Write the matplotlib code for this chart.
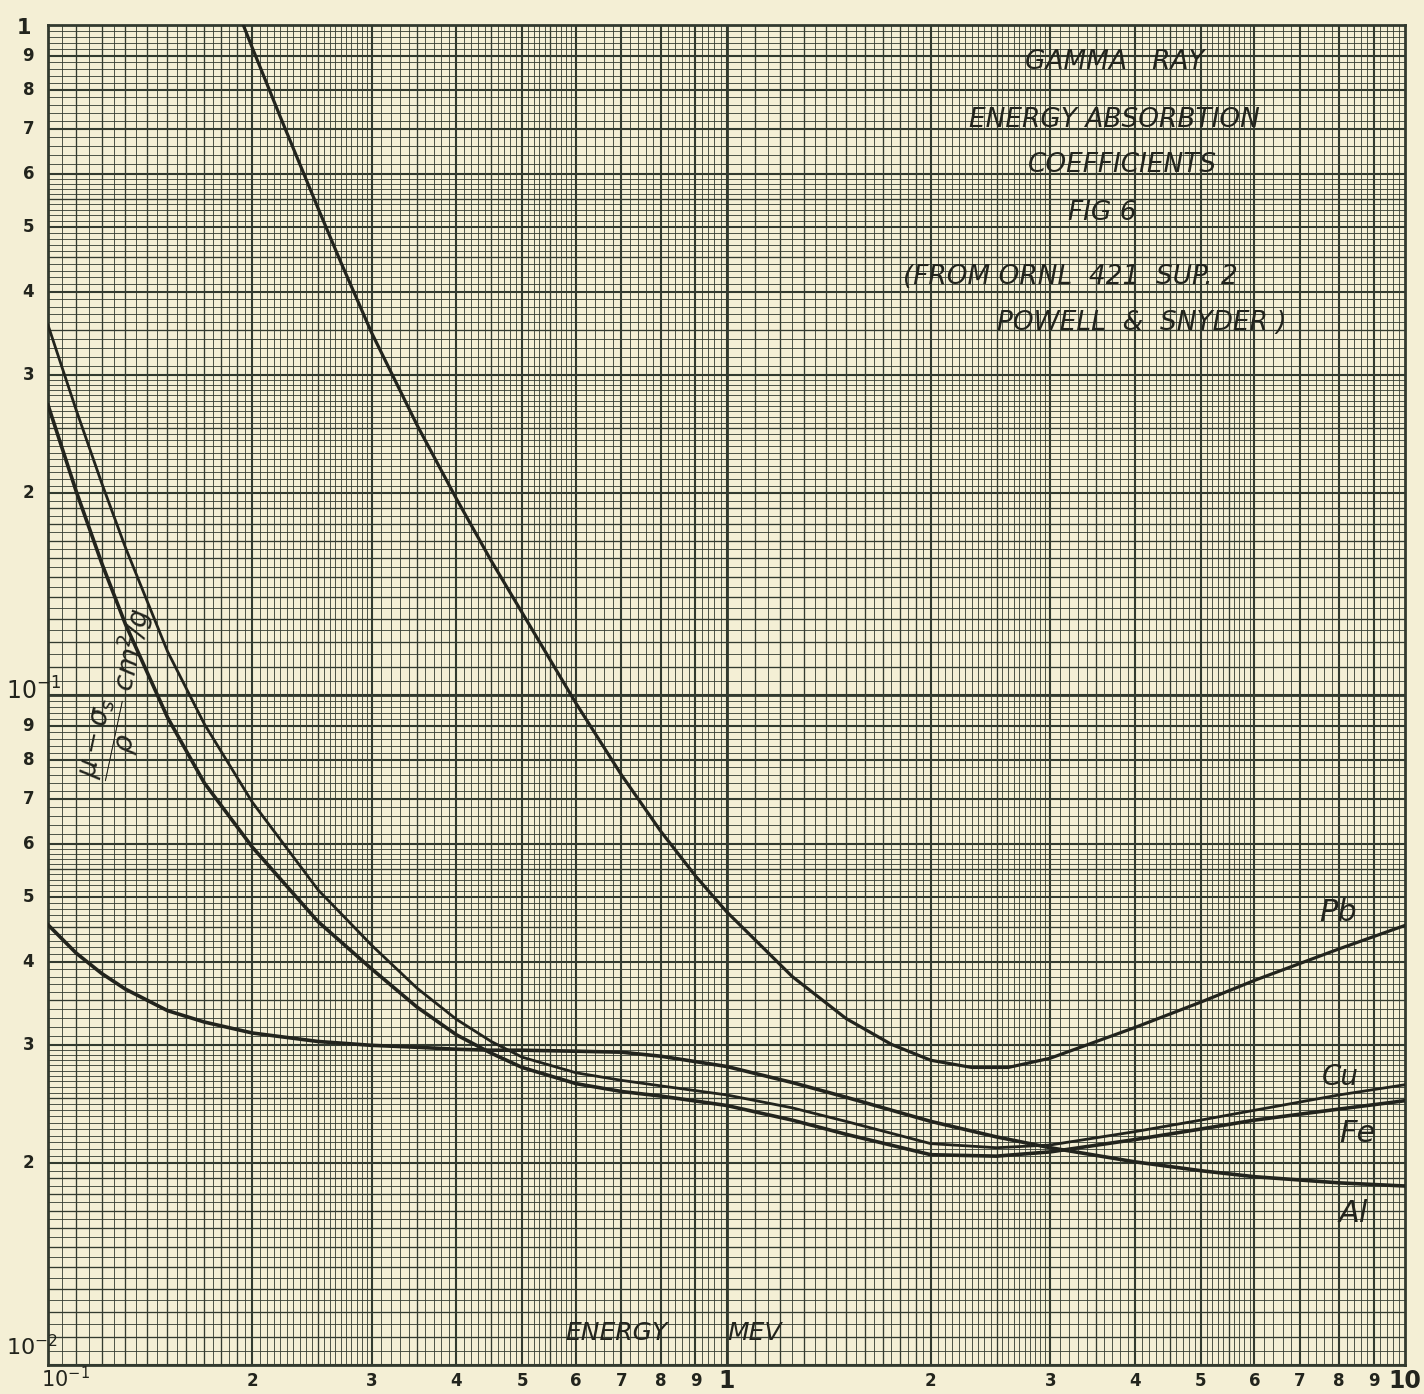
import numpy as np
import matplotlib.pyplot as plt

# energies (MeV) shared by Cu, Fe, Al
energy = [0.1, 0.11, 0.12, 0.13, 0.15, 0.17, 0.2, 0.25, 0.3, 0.35, 0.4, 0.45, 0.5,
          0.6, 0.7, 0.8, 1.0, 1.25, 1.5, 2, 2.5, 3, 4, 5, 6, 8, 10]

cu = [0.3566, 0.2666, 0.2071, 0.1662, 0.1162, 0.0905, 0.0692, 0.0512, 0.0423, 0.0365,
      0.0328, 0.0304, 0.0288, 0.0273, 0.0266, 0.0261, 0.0253, 0.0242, 0.0231, 0.0214,
      0.0211, 0.0213, 0.0223, 0.0232, 0.0240, 0.0253, 0.0262]
fe = [0.2710, 0.2016, 0.1573, 0.1277, 0.0926, 0.0739, 0.0593, 0.0459, 0.0390, 0.0342,
      0.0311, 0.0292, 0.0278, 0.0263, 0.0256, 0.0252, 0.0244, 0.0232, 0.0221, 0.0206,
      0.0205, 0.0208, 0.0217, 0.0225, 0.0232, 0.0241, 0.0248]
al = [0.0454, 0.0412, 0.0384, 0.0364, 0.0338, 0.0325, 0.0313, 0.0304, 0.0300, 0.0298,
      0.0296, 0.0295, 0.0295, 0.0294, 0.0293, 0.0289, 0.0279, 0.0264, 0.0251, 0.0231,
      0.0219, 0.0211, 0.0201, 0.0195, 0.0191, 0.0187, 0.0185]

# lead leaves the top of the sheet near 0.19 MeV
pb_energy = [0.194, 0.2, 0.22, 0.25, 0.27, 0.3, 0.35, 0.4, 0.45, 0.5, 0.6, 0.7, 0.8, 0.9,
             1.0, 1.25, 1.5, 1.75, 2, 2.3, 2.6, 3, 4, 5, 6, 8, 10]
pb = [1.0, 0.925, 0.729, 0.533, 0.443, 0.347, 0.2527, 0.1962, 0.1586, 0.1326, 0.0972,
      0.0760, 0.0626, 0.0537, 0.0475, 0.0380, 0.0329, 0.0301, 0.0285, 0.0278, 0.0278,
      0.0287, 0.0319, 0.0348, 0.0375, 0.0418, 0.0453]

x_ticks = [0.2, 0.3, 0.4, 0.5, 0.6, 0.7, 0.8, 0.9, 2, 3, 4, 5, 6, 7, 8, 9]
x_tick_labels = ['2', '3', '4', '5', '6', '7', '8', '9', '2', '3', '4', '5', '6', '7', '8', '9']
y_ticks = [0.9, 0.8, 0.7, 0.6, 0.5, 0.4, 0.3, 0.2, 0.09, 0.08, 0.07, 0.06, 0.05, 0.04, 0.03, 0.02]
y_tick_labels = ['9', '8', '7', '6', '5', '4', '3', '2', '9', '8', '7', '6', '5', '4', '3', '2']

title_lines = ['GAMMA   RAY', 'ENERGY ABSORBTION', 'COEFFICIENTS', 'FIG 6']

PAPER = '#f4efd5'
INK = '#323a2f'
PEN = '#22241d'


def paper_lines(decade):
    # (value, linewidth) pairs for one cycle of the printed log paper
    out = []
    for a, b, step in [(1, 2, 0.05), (2, 3, 0.05), (3, 5, 0.1), (5, 6, 0.1), (6, 10, 0.2)]:
        for v in np.arange(a, b - 1e-9, step):
            v = round(v, 3)
            if abs(v - round(v)) < 1e-6:
                lw = 1.5
            elif abs(v * 10 - round(v * 10)) < 1e-6 and v < 2:
                lw = 0.95
            elif abs(v * 2 - round(v * 2)) < 1e-6:
                lw = 0.95
            else:
                lw = 0.6
            out.append((v * decade, lw))
    return out


fig = plt.figure(figsize=(14.24, 13.94), dpi=100, facecolor=PAPER)
ax = fig.add_axes([48 / 1424, 1 - 1365 / 1394, 1357 / 1424, 1340 / 1394])
ax.set_facecolor(PAPER)
ax.set_xscale('log')
ax.set_yscale('log')
ax.set_xlim(0.1, 10)
ax.set_ylim(0.01, 1)

for d in [0.1, 1]:
    for v, lw in paper_lines(d):
        ax.axvline(v, color=INK, lw=lw, zorder=0)
for d in [0.01, 0.1]:
    for v, lw in paper_lines(d):
        ax.axhline(v, color=INK, lw=lw, zorder=0)
ax.axvline(1, color=INK, lw=2.0, zorder=0)
ax.axhline(0.1, color=INK, lw=2.0, zorder=0)

for s in ax.spines.values():
    s.set_linewidth(2.0)
    s.set_color(INK)
ax.tick_params(which='both', length=0, labelbottom=False, labelleft=False)

ax.plot(pb_energy, pb, color=PEN, lw=2.3, solid_joinstyle='round', zorder=3)
ax.plot(energy, cu, color=PEN, lw=2.0, solid_joinstyle='round', zorder=3)
ax.plot(energy, fe, color=PEN, lw=2.6, solid_joinstyle='round', zorder=3)
ax.plot(energy, al, color=PEN, lw=2.6, solid_joinstyle='round', zorder=3)

# printed scale figures
num = dict(fontsize=12, fontweight='bold', color=PEN, family='DejaVu Sans')
for v, t in zip(y_ticks, y_tick_labels):
    ax.text(-0.0145, v, t, transform=ax.get_yaxis_transform(), ha='center', va='center', **num)
for v, t in zip(x_ticks, x_tick_labels):
    ax.text(v, -0.012, t, transform=ax.get_xaxis_transform(), ha='center', va='center', **num)

hand = dict(color=PEN, family='DejaVu Sans', fontweight='bold')
ax.text(-0.018, 0.998, '1', transform=ax.transAxes, ha='center', va='center', fontsize=15, **hand)
ax.text(-0.011, 0.503, r'$10^{-1}$', transform=ax.transAxes, ha='center', va='center', fontsize=17, **hand)
ax.text(-0.012, 0.014, r'$10^{-2}$', transform=ax.transAxes, ha='center', va='center', fontsize=16, **hand)
ax.text(0.013, -0.0105, r'$10^{-1}$', transform=ax.transAxes, ha='center', va='center', fontsize=15, **hand)
ax.text(1.0, -0.012, '1', transform=ax.get_xaxis_transform(), ha='center', va='center', fontsize=17, **hand)
ax.text(10, -0.012, '10', transform=ax.get_xaxis_transform(), ha='center', va='center', fontsize=17, **hand)

# hand lettering
lett = dict(color=PEN, style='italic', family='DejaVu Sans', transform=ax.transAxes)
ax.text(0.786, 0.9724, title_lines[0], ha='center', va='center', fontsize=19, **lett)
ax.text(0.786, 0.9291, title_lines[1], ha='center', va='center', fontsize=19, **lett)
ax.text(0.7915, 0.8955, title_lines[2], ha='center', va='center', fontsize=19, **lett)
ax.text(0.7767, 0.8597, title_lines[3], ha='center', va='center', fontsize=19, **lett)
ax.text(0.630, 0.8119, '(FROM ORNL  421  SUP. 2', ha='left', va='center', fontsize=19, **lett)
ax.text(0.6993, 0.7776, 'POWELL  &  SNYDER )', ha='left', va='center', fontsize=19, **lett)

ax.text(0.419, 0.0239, 'ENERGY', ha='center', va='center', fontsize=18, **lett)
ax.text(0.521, 0.0239, 'MEV', ha='center', va='center', fontsize=18, **lett)

ax.text(0.0555, 0.5, r'$\dfrac{\mu - \sigma_s}{\rho}$ cm$^2$/g', rotation=78,
        ha='center', va='center', fontsize=20, **lett)

ax.text(0.9506, 0.338, 'Pb', ha='center', va='center', fontsize=22, **lett)
ax.text(0.952, 0.2149, 'Cu', ha='center', va='center', fontsize=20, **lett)
ax.text(0.9646, 0.1731, 'Fe', ha='center', va='center', fontsize=22, **lett)
ax.text(0.9617, 0.1134, 'Al', ha='center', va='center', fontsize=22, **lett)

fig.savefig('out.png', dpi=100, facecolor=PAPER)
